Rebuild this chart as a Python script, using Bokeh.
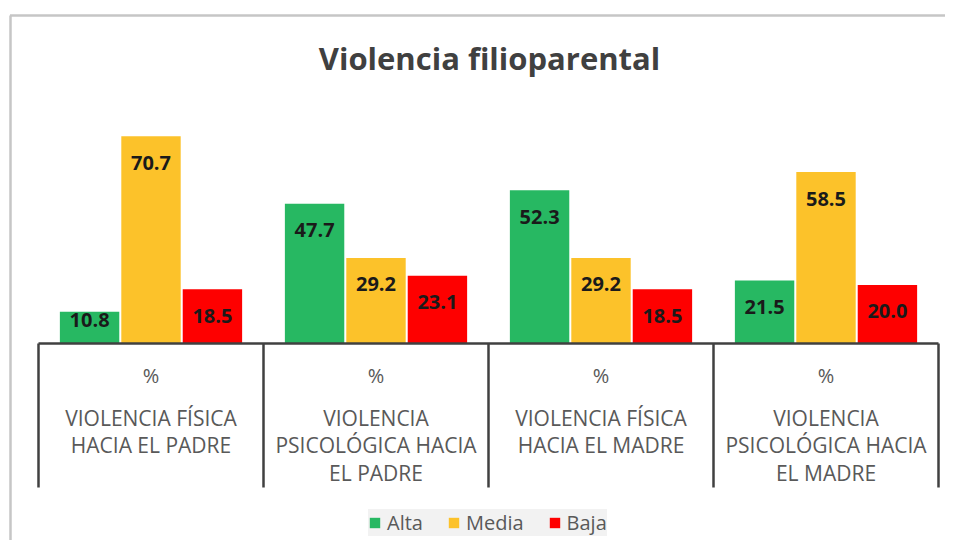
from bokeh.plotting import figure
from bokeh.models import Range1d, Legend, LegendItem
from bokeh.embed import file_html
from bokeh.resources import INLINE
from bokeh.core.properties import value
import numpy as np

# ---------------- data ----------------
title_text = "Violencia filioparental"
categories = [
    "VIOLENCIA FÍSICA\nHACIA EL PADRE",
    "VIOLENCIA\nPSICOLÓGICA HACIA\nEL PADRE",
    "VIOLENCIA FÍSICA\nHACIA EL MADRE",
    "VIOLENCIA\nPSICOLÓGICA HACIA\nEL MADRE",
]
unit_label = "%"
series = ["Alta", "Media", "Baja"]
alta = [10.8, 47.7, 52.3, 21.5]
media = [70.7, 29.2, 29.2, 58.5]
baja = [18.5, 23.1, 18.5, 20.0]
series_values = [alta, media, baja]
colors = ["#27b862", "#fcc22a", "#fe0000"]

# ---------------- geometry ----------------
W, H = 945, 540
PX_Y = 2.93          # pixels per % unit
PX_X = 225.0         # pixels per category
BASE_FY = 343        # baseline, px from top of figure
LEFT_FX = 38         # first separator, px from left of figure


def dy(fy):
    return (BASE_FY - fy) / PX_Y


def dx(fx):
    return -0.5 + (fx - LEFT_FX) / PX_X


p = figure(width=W, height=H, output_backend="svg", toolbar_location=None,
           x_range=Range1d(dx(0), dx(W)), y_range=Range1d(dy(H), dy(0)),
           x_axis_location=None, y_axis_location=None,
           min_border=0, outline_line_color=None,
           background_fill_color="white", border_fill_color="white")
p.xgrid.visible = False
p.ygrid.visible = False

# chart border (top and left visible)
border_col = "#c6c6c6"
p.segment(x0=[dx(9.5)], y0=[dy(15)], x1=[dx(W)], y1=[dy(15)], line_color=border_col, line_width=2.5)
p.segment(x0=[dx(10)], y0=[dy(15)], x1=[dx(10)], y1=[dy(H)], line_color=border_col, line_width=2.5)

# title
p.text(x=[dx(489)], y=[dy(57)], text=[title_text], text_align="center", text_baseline="middle",
       text_font=value("Open Sans"), text_font_style="bold", text_font_size="31px",
       text_color="#404040")

# bars
n = len(categories)
idx = np.arange(n)
offsets = [-0.273, 0.0, 0.273]
bar_w = 0.264
renderers = []
for k, (name, vals, col) in enumerate(zip(series, series_values, colors)):
    xs = idx + offsets[k]
    r = p.vbar(x=xs, top=vals, bottom=0, width=bar_w, fill_color=col, line_color=None)
    renderers.append(r)
    vals_arr = np.array(vals)
    ly = np.maximum(vals_arr - 26.5 / PX_Y, 24 / PX_Y)
    p.text(x=xs, y=ly, text=[f"{v:.1f}" for v in vals], text_align="center",
           text_baseline="middle", text_font=value("Open Sans"), text_font_style="bold",
           text_font_size="20px", text_color="#1a1a1a")

# category axis (multi-level, Excel style)
axis_col = "#404040"
p.segment(x0=[-0.5], y0=[0], x1=[n - 0.5], y1=[0], line_color=axis_col, line_width=2.5)
sep_x = np.arange(n + 1) - 0.5
p.segment(x0=sep_x, y0=[0] * (n + 1), x1=sep_x, y1=[dy(487)] * (n + 1),
          line_color=axis_col, line_width=2.5)

p.text(x=idx, y=[dy(375)] * n, text=[unit_label] * n, text_align="center",
       text_baseline="middle", text_font=value("Open Sans"), text_font_size="20px",
       text_color="#595959")

lx, lyy, lt = [], [], []
for i, cat in enumerate(categories):
    for j, line in enumerate(cat.split("\n")):
        lx.append(i)
        lyy.append(dy(417 + j * 27.7))
        lt.append(line)
p.text(x=lx, y=lyy, text=lt, text_align="center", text_baseline="middle",
       text_font=value("Open Sans"), text_font_size="21px", text_color="#595959")

# legend
legend = Legend(items=[LegendItem(label=s, renderers=[r]) for s, r in zip(series, renderers)],
                orientation="horizontal", location=(368, 4),
                glyph_width=13, glyph_height=13, label_standoff=6, spacing=24,
                padding=10, margin=0, label_height=20,
                background_fill_color="#f2f2f2", background_fill_alpha=1.0,
                border_line_color=None,
                label_text_font="Open Sans", label_text_font_size="20px",
                label_text_color="#595959")
p.add_layout(legend)

open("out.html", "w").write(file_html(p, INLINE))
